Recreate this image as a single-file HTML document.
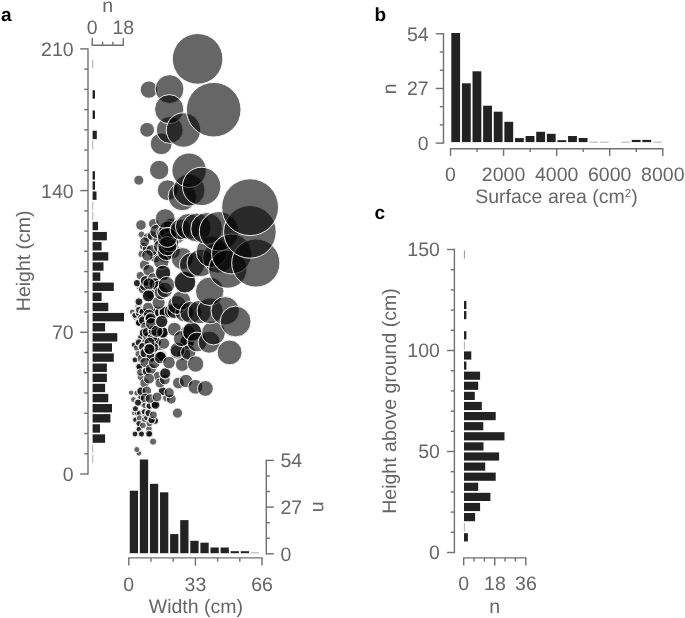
<!DOCTYPE html>
<html><head><meta charset="utf-8"><title>Figure</title>
<style>
html,body{margin:0;padding:0;background:#fff;}
svg{display:block;font-family:"Liberation Sans",sans-serif;text-rendering:geometricPrecision;will-change:transform;}
</style></head>
<body>
<svg width="685" height="618" viewBox="0 0 685 618">
<rect width="685" height="618" fill="#fff"/>
<text x="1.00" y="20.70" text-anchor="start" font-size="19" fill="#000" font-weight="bold">a</text>
<text x="374.60" y="20.50" text-anchor="start" font-size="19" fill="#000" font-weight="bold">b</text>
<text x="374.40" y="218.60" text-anchor="start" font-size="19" fill="#000" font-weight="bold">c</text>
<line x1="88.00" y1="48.25" x2="88.00" y2="474.65" stroke="#707070" stroke-width="1.4"/>
<line x1="80.20" y1="474.00" x2="88.00" y2="474.00" stroke="#707070" stroke-width="1.4"/>
<line x1="84.20" y1="453.76" x2="88.00" y2="453.76" stroke="#707070" stroke-width="1.4"/>
<line x1="84.20" y1="433.51" x2="88.00" y2="433.51" stroke="#707070" stroke-width="1.4"/>
<line x1="84.20" y1="413.27" x2="88.00" y2="413.27" stroke="#707070" stroke-width="1.4"/>
<line x1="84.20" y1="393.03" x2="88.00" y2="393.03" stroke="#707070" stroke-width="1.4"/>
<line x1="84.20" y1="372.79" x2="88.00" y2="372.79" stroke="#707070" stroke-width="1.4"/>
<line x1="84.20" y1="352.54" x2="88.00" y2="352.54" stroke="#707070" stroke-width="1.4"/>
<line x1="80.20" y1="332.30" x2="88.00" y2="332.30" stroke="#707070" stroke-width="1.4"/>
<line x1="84.20" y1="312.06" x2="88.00" y2="312.06" stroke="#707070" stroke-width="1.4"/>
<line x1="84.20" y1="291.81" x2="88.00" y2="291.81" stroke="#707070" stroke-width="1.4"/>
<line x1="84.20" y1="271.57" x2="88.00" y2="271.57" stroke="#707070" stroke-width="1.4"/>
<line x1="84.20" y1="251.33" x2="88.00" y2="251.33" stroke="#707070" stroke-width="1.4"/>
<line x1="84.20" y1="231.09" x2="88.00" y2="231.09" stroke="#707070" stroke-width="1.4"/>
<line x1="84.20" y1="210.84" x2="88.00" y2="210.84" stroke="#707070" stroke-width="1.4"/>
<line x1="80.20" y1="190.60" x2="88.00" y2="190.60" stroke="#707070" stroke-width="1.4"/>
<line x1="84.20" y1="170.36" x2="88.00" y2="170.36" stroke="#707070" stroke-width="1.4"/>
<line x1="84.20" y1="150.11" x2="88.00" y2="150.11" stroke="#707070" stroke-width="1.4"/>
<line x1="84.20" y1="129.87" x2="88.00" y2="129.87" stroke="#707070" stroke-width="1.4"/>
<line x1="84.20" y1="109.63" x2="88.00" y2="109.63" stroke="#707070" stroke-width="1.4"/>
<line x1="84.20" y1="89.39" x2="88.00" y2="89.39" stroke="#707070" stroke-width="1.4"/>
<line x1="84.20" y1="69.14" x2="88.00" y2="69.14" stroke="#707070" stroke-width="1.4"/>
<line x1="80.20" y1="48.90" x2="88.00" y2="48.90" stroke="#707070" stroke-width="1.4"/>
<text x="73.60" y="55.90" text-anchor="end" font-size="19.5" fill="#666">210</text>
<text x="73.60" y="197.60" text-anchor="end" font-size="19.5" fill="#666">140</text>
<text x="73.60" y="339.30" text-anchor="end" font-size="19.5" fill="#666">70</text>
<text x="73.60" y="481.00" text-anchor="end" font-size="19.5" fill="#666">0</text>
<text x="29.90" y="260.80" text-anchor="middle" font-size="19.5" fill="#666" transform="rotate(-90 29.90 260.80)">Height (cm)</text>
<line x1="91.55" y1="45.20" x2="123.95" y2="45.20" stroke="#707070" stroke-width="1.4"/>
<line x1="92.20" y1="37.90" x2="92.20" y2="45.20" stroke="#707070" stroke-width="1.4"/>
<line x1="123.30" y1="37.90" x2="123.30" y2="45.20" stroke="#707070" stroke-width="1.4"/>
<line x1="102.60" y1="41.80" x2="102.60" y2="45.20" stroke="#707070" stroke-width="1.4"/>
<line x1="112.90" y1="41.80" x2="112.90" y2="45.20" stroke="#707070" stroke-width="1.4"/>
<text x="92.10" y="34.20" text-anchor="middle" font-size="19.5" fill="#666">0</text>
<text x="123.30" y="34.20" text-anchor="middle" font-size="19.5" fill="#666">18</text>
<text x="107.60" y="11.50" text-anchor="middle" font-size="19.5" fill="#666">n</text>
<rect x="92.30" y="59.87" width="0.90" height="8.42" fill="#a8a8a8"/>
<rect x="92.60" y="90.24" width="2.40" height="8.42" fill="#222"/>
<rect x="92.60" y="110.48" width="2.40" height="8.42" fill="#222"/>
<rect x="92.60" y="130.72" width="4.20" height="8.42" fill="#222"/>
<rect x="92.30" y="140.84" width="0.90" height="8.42" fill="#a8a8a8"/>
<rect x="92.60" y="171.21" width="2.40" height="8.42" fill="#222"/>
<rect x="92.60" y="181.33" width="2.40" height="8.42" fill="#222"/>
<rect x="92.60" y="191.45" width="3.90" height="8.42" fill="#222"/>
<rect x="92.30" y="201.57" width="0.90" height="8.42" fill="#a8a8a8"/>
<rect x="92.30" y="211.69" width="0.90" height="8.42" fill="#a8a8a8"/>
<rect x="92.60" y="221.81" width="5.40" height="8.42" fill="#222"/>
<rect x="92.60" y="231.94" width="14.30" height="8.42" fill="#222"/>
<rect x="92.60" y="242.06" width="9.00" height="8.42" fill="#222"/>
<rect x="92.60" y="252.18" width="15.70" height="8.42" fill="#222"/>
<rect x="92.60" y="262.30" width="10.90" height="8.42" fill="#222"/>
<rect x="92.60" y="272.42" width="7.70" height="8.42" fill="#222"/>
<rect x="92.60" y="282.54" width="21.20" height="8.42" fill="#222"/>
<rect x="92.60" y="292.66" width="9.00" height="8.42" fill="#222"/>
<rect x="92.60" y="302.79" width="15.70" height="8.42" fill="#222"/>
<rect x="92.60" y="312.91" width="31.40" height="8.42" fill="#222"/>
<rect x="92.60" y="323.03" width="12.50" height="8.42" fill="#222"/>
<rect x="92.60" y="333.15" width="24.70" height="8.42" fill="#222"/>
<rect x="92.60" y="343.27" width="19.40" height="8.42" fill="#222"/>
<rect x="92.60" y="353.39" width="21.20" height="8.42" fill="#222"/>
<rect x="92.60" y="363.51" width="14.30" height="8.42" fill="#222"/>
<rect x="92.60" y="373.64" width="14.30" height="8.42" fill="#222"/>
<rect x="92.60" y="383.76" width="12.50" height="8.42" fill="#222"/>
<rect x="92.60" y="393.88" width="15.70" height="8.42" fill="#222"/>
<rect x="92.60" y="404.00" width="19.40" height="8.42" fill="#222"/>
<rect x="92.60" y="414.12" width="17.80" height="8.42" fill="#222"/>
<rect x="92.60" y="424.24" width="7.40" height="8.42" fill="#222"/>
<rect x="92.60" y="434.36" width="12.50" height="8.42" fill="#222"/>
<rect x="92.30" y="444.49" width="0.90" height="8.42" fill="#a8a8a8"/>
<rect x="92.30" y="454.61" width="0.90" height="8.42" fill="#a8a8a8"/>
<line x1="128.15" y1="557.90" x2="262.65" y2="557.90" stroke="#707070" stroke-width="1.4"/>
<line x1="128.80" y1="557.90" x2="128.80" y2="565.60" stroke="#707070" stroke-width="1.4"/>
<line x1="151.00" y1="557.90" x2="151.00" y2="561.70" stroke="#707070" stroke-width="1.4"/>
<line x1="173.20" y1="557.90" x2="173.20" y2="561.70" stroke="#707070" stroke-width="1.4"/>
<line x1="195.40" y1="557.90" x2="195.40" y2="565.60" stroke="#707070" stroke-width="1.4"/>
<line x1="217.60" y1="557.90" x2="217.60" y2="561.70" stroke="#707070" stroke-width="1.4"/>
<line x1="239.80" y1="557.90" x2="239.80" y2="561.70" stroke="#707070" stroke-width="1.4"/>
<line x1="262.00" y1="557.90" x2="262.00" y2="565.60" stroke="#707070" stroke-width="1.4"/>
<text x="128.80" y="590.50" text-anchor="middle" font-size="19.5" fill="#666">0</text>
<text x="195.40" y="590.50" text-anchor="middle" font-size="19.5" fill="#666">33</text>
<text x="262.00" y="590.50" text-anchor="middle" font-size="19.5" fill="#666">66</text>
<text x="195.90" y="613.30" text-anchor="middle" font-size="19.5" fill="#666">Width (cm)</text>
<line x1="266.30" y1="459.75" x2="266.30" y2="554.45" stroke="#707070" stroke-width="1.4"/>
<line x1="266.30" y1="460.40" x2="273.90" y2="460.40" stroke="#707070" stroke-width="1.4"/>
<line x1="266.30" y1="475.97" x2="269.90" y2="475.97" stroke="#707070" stroke-width="1.4"/>
<line x1="266.30" y1="491.53" x2="269.90" y2="491.53" stroke="#707070" stroke-width="1.4"/>
<line x1="266.30" y1="507.10" x2="273.90" y2="507.10" stroke="#707070" stroke-width="1.4"/>
<line x1="266.30" y1="522.67" x2="269.90" y2="522.67" stroke="#707070" stroke-width="1.4"/>
<line x1="266.30" y1="538.23" x2="269.90" y2="538.23" stroke="#707070" stroke-width="1.4"/>
<line x1="266.30" y1="553.80" x2="273.90" y2="553.80" stroke="#707070" stroke-width="1.4"/>
<text x="280.40" y="467.20" text-anchor="start" font-size="19.5" fill="#666">54</text>
<text x="280.40" y="514.10" text-anchor="start" font-size="19.5" fill="#666">27</text>
<text x="280.40" y="560.80" text-anchor="start" font-size="19.5" fill="#666">0</text>
<text x="313.40" y="507.00" text-anchor="middle" font-size="19.5" fill="#666" transform="rotate(90 313.40 507.00)">n</text>
<rect x="129.75" y="490.70" width="8.29" height="62.50" fill="#222"/>
<rect x="139.84" y="459.50" width="8.29" height="93.70" fill="#222"/>
<rect x="149.93" y="483.80" width="8.29" height="69.40" fill="#222"/>
<rect x="160.02" y="492.30" width="8.29" height="60.90" fill="#222"/>
<rect x="170.11" y="534.10" width="8.29" height="19.10" fill="#222"/>
<rect x="180.20" y="520.10" width="8.29" height="33.10" fill="#222"/>
<rect x="190.30" y="540.80" width="8.29" height="12.40" fill="#222"/>
<rect x="200.39" y="542.70" width="8.29" height="10.50" fill="#222"/>
<rect x="210.48" y="547.50" width="8.29" height="5.70" fill="#222"/>
<rect x="220.57" y="547.50" width="8.29" height="5.70" fill="#222"/>
<rect x="230.66" y="551.20" width="8.29" height="2.00" fill="#222"/>
<rect x="240.75" y="551.20" width="8.29" height="2.00" fill="#222"/>
<rect x="250.84" y="552.40" width="8.29" height="0.90" fill="#a8a8a8"/>
<line x1="443.50" y1="33.15" x2="443.50" y2="143.75" stroke="#707070" stroke-width="1.4"/>
<line x1="435.70" y1="33.80" x2="443.50" y2="33.80" stroke="#707070" stroke-width="1.4"/>
<line x1="439.80" y1="52.02" x2="443.50" y2="52.02" stroke="#707070" stroke-width="1.4"/>
<line x1="439.80" y1="70.23" x2="443.50" y2="70.23" stroke="#707070" stroke-width="1.4"/>
<line x1="435.70" y1="88.45" x2="443.50" y2="88.45" stroke="#707070" stroke-width="1.4"/>
<line x1="439.80" y1="106.67" x2="443.50" y2="106.67" stroke="#707070" stroke-width="1.4"/>
<line x1="439.80" y1="124.88" x2="443.50" y2="124.88" stroke="#707070" stroke-width="1.4"/>
<line x1="435.70" y1="143.10" x2="443.50" y2="143.10" stroke="#707070" stroke-width="1.4"/>
<text x="428.60" y="41.00" text-anchor="end" font-size="19.5" fill="#666">54</text>
<text x="428.60" y="95.40" text-anchor="end" font-size="19.5" fill="#666">27</text>
<text x="428.60" y="150.10" text-anchor="end" font-size="19.5" fill="#666">0</text>
<text x="396.00" y="88.70" text-anchor="middle" font-size="19.5" fill="#666" transform="rotate(-90 396.00 88.70)">n</text>
<line x1="449.85" y1="148.80" x2="663.45" y2="148.80" stroke="#707070" stroke-width="1.4"/>
<line x1="450.50" y1="148.80" x2="450.50" y2="155.90" stroke="#707070" stroke-width="1.4"/>
<line x1="477.04" y1="148.80" x2="477.04" y2="151.90" stroke="#707070" stroke-width="1.4"/>
<line x1="503.57" y1="148.80" x2="503.57" y2="155.90" stroke="#707070" stroke-width="1.4"/>
<line x1="530.11" y1="148.80" x2="530.11" y2="151.90" stroke="#707070" stroke-width="1.4"/>
<line x1="556.65" y1="148.80" x2="556.65" y2="155.90" stroke="#707070" stroke-width="1.4"/>
<line x1="583.19" y1="148.80" x2="583.19" y2="151.90" stroke="#707070" stroke-width="1.4"/>
<line x1="609.72" y1="148.80" x2="609.72" y2="155.90" stroke="#707070" stroke-width="1.4"/>
<line x1="636.26" y1="148.80" x2="636.26" y2="151.90" stroke="#707070" stroke-width="1.4"/>
<line x1="662.80" y1="148.80" x2="662.80" y2="155.90" stroke="#707070" stroke-width="1.4"/>
<text x="450.50" y="180.90" text-anchor="middle" font-size="19.5" fill="#666">0</text>
<text x="503.57" y="180.90" text-anchor="middle" font-size="19.5" fill="#666">2000</text>
<text x="556.65" y="180.90" text-anchor="middle" font-size="19.5" fill="#666">4000</text>
<text x="609.72" y="180.90" text-anchor="middle" font-size="19.5" fill="#666">6000</text>
<text x="662.80" y="180.90" text-anchor="middle" font-size="19.5" fill="#666">8000</text>
<text x="556.5" y="203.2" text-anchor="middle" font-size="19.5" fill="#666">Surface area (cm<tspan font-size="11.5" dy="-6.3">2</tspan><tspan dy="6.3">)</tspan></text>
<rect x="451.30" y="33.00" width="8.81" height="109.10" fill="#222"/>
<rect x="461.92" y="83.30" width="8.81" height="58.80" fill="#222"/>
<rect x="472.53" y="71.30" width="8.81" height="70.80" fill="#222"/>
<rect x="483.14" y="105.70" width="8.81" height="36.40" fill="#222"/>
<rect x="493.76" y="111.70" width="8.81" height="30.40" fill="#222"/>
<rect x="504.38" y="121.80" width="8.81" height="20.30" fill="#222"/>
<rect x="514.99" y="138.10" width="8.82" height="4.00" fill="#222"/>
<rect x="525.60" y="136.00" width="8.82" height="6.10" fill="#222"/>
<rect x="536.22" y="131.80" width="8.82" height="10.30" fill="#222"/>
<rect x="546.83" y="133.80" width="8.82" height="8.30" fill="#222"/>
<rect x="557.45" y="140.20" width="8.82" height="1.90" fill="#222"/>
<rect x="568.06" y="136.00" width="8.82" height="6.10" fill="#222"/>
<rect x="578.68" y="138.00" width="8.82" height="4.10" fill="#222"/>
<rect x="589.29" y="141.70" width="8.82" height="0.90" fill="#a8a8a8"/>
<rect x="599.91" y="141.70" width="8.81" height="0.90" fill="#a8a8a8"/>
<rect x="621.14" y="141.70" width="8.82" height="0.90" fill="#a8a8a8"/>
<rect x="631.75" y="139.90" width="8.82" height="2.20" fill="#222"/>
<rect x="642.37" y="139.90" width="8.82" height="2.20" fill="#222"/>
<rect x="652.98" y="141.70" width="8.82" height="0.90" fill="#a8a8a8"/>
<line x1="454.40" y1="248.85" x2="454.40" y2="553.15" stroke="#707070" stroke-width="1.4"/>
<line x1="447.00" y1="552.50" x2="454.40" y2="552.50" stroke="#707070" stroke-width="1.4"/>
<line x1="450.80" y1="532.30" x2="454.40" y2="532.30" stroke="#707070" stroke-width="1.4"/>
<line x1="450.80" y1="512.10" x2="454.40" y2="512.10" stroke="#707070" stroke-width="1.4"/>
<line x1="450.80" y1="491.90" x2="454.40" y2="491.90" stroke="#707070" stroke-width="1.4"/>
<line x1="450.80" y1="471.70" x2="454.40" y2="471.70" stroke="#707070" stroke-width="1.4"/>
<line x1="447.00" y1="451.50" x2="454.40" y2="451.50" stroke="#707070" stroke-width="1.4"/>
<line x1="450.80" y1="431.30" x2="454.40" y2="431.30" stroke="#707070" stroke-width="1.4"/>
<line x1="450.80" y1="411.10" x2="454.40" y2="411.10" stroke="#707070" stroke-width="1.4"/>
<line x1="450.80" y1="390.90" x2="454.40" y2="390.90" stroke="#707070" stroke-width="1.4"/>
<line x1="450.80" y1="370.70" x2="454.40" y2="370.70" stroke="#707070" stroke-width="1.4"/>
<line x1="447.00" y1="350.50" x2="454.40" y2="350.50" stroke="#707070" stroke-width="1.4"/>
<line x1="450.80" y1="330.30" x2="454.40" y2="330.30" stroke="#707070" stroke-width="1.4"/>
<line x1="450.80" y1="310.10" x2="454.40" y2="310.10" stroke="#707070" stroke-width="1.4"/>
<line x1="450.80" y1="289.90" x2="454.40" y2="289.90" stroke="#707070" stroke-width="1.4"/>
<line x1="450.80" y1="269.70" x2="454.40" y2="269.70" stroke="#707070" stroke-width="1.4"/>
<line x1="447.00" y1="249.50" x2="454.40" y2="249.50" stroke="#707070" stroke-width="1.4"/>
<text x="439.90" y="256.00" text-anchor="end" font-size="19.5" fill="#666">150</text>
<text x="439.90" y="357.00" text-anchor="end" font-size="19.5" fill="#666">100</text>
<text x="439.90" y="458.00" text-anchor="end" font-size="19.5" fill="#666">50</text>
<text x="439.90" y="559.00" text-anchor="end" font-size="19.5" fill="#666">0</text>
<text x="395.80" y="401.00" text-anchor="middle" font-size="19.5" fill="#666" transform="rotate(-90 395.80 401.00)">Height above ground (cm)</text>
<line x1="463.05" y1="557.90" x2="526.45" y2="557.90" stroke="#707070" stroke-width="1.4"/>
<line x1="463.70" y1="557.90" x2="463.70" y2="565.60" stroke="#707070" stroke-width="1.4"/>
<line x1="474.05" y1="557.90" x2="474.05" y2="561.50" stroke="#707070" stroke-width="1.4"/>
<line x1="484.40" y1="557.90" x2="484.40" y2="561.50" stroke="#707070" stroke-width="1.4"/>
<line x1="494.75" y1="557.90" x2="494.75" y2="565.60" stroke="#707070" stroke-width="1.4"/>
<line x1="505.10" y1="557.90" x2="505.10" y2="561.50" stroke="#707070" stroke-width="1.4"/>
<line x1="515.45" y1="557.90" x2="515.45" y2="561.50" stroke="#707070" stroke-width="1.4"/>
<line x1="525.80" y1="557.90" x2="525.80" y2="565.60" stroke="#707070" stroke-width="1.4"/>
<text x="463.60" y="590.40" text-anchor="middle" font-size="19.5" fill="#666">0</text>
<text x="494.90" y="590.40" text-anchor="middle" font-size="19.5" fill="#666">18</text>
<text x="525.90" y="590.40" text-anchor="middle" font-size="19.5" fill="#666">36</text>
<text x="494.80" y="612.70" text-anchor="middle" font-size="19.5" fill="#666">n</text>
<rect x="463.90" y="250.40" width="0.90" height="8.20" fill="#888"/>
<rect x="464.00" y="300.90" width="2.40" height="8.20" fill="#222"/>
<rect x="464.00" y="311.00" width="2.40" height="8.20" fill="#222"/>
<rect x="464.00" y="331.20" width="2.40" height="8.20" fill="#222"/>
<rect x="463.90" y="341.30" width="0.90" height="8.20" fill="#a8a8a8"/>
<rect x="464.00" y="351.40" width="7.30" height="8.20" fill="#222"/>
<rect x="464.00" y="361.50" width="2.40" height="8.20" fill="#222"/>
<rect x="464.00" y="371.60" width="16.10" height="8.20" fill="#222"/>
<rect x="464.00" y="381.70" width="14.20" height="8.20" fill="#222"/>
<rect x="464.00" y="391.80" width="10.80" height="8.20" fill="#222"/>
<rect x="464.00" y="401.90" width="17.80" height="8.20" fill="#222"/>
<rect x="464.00" y="412.00" width="31.70" height="8.20" fill="#222"/>
<rect x="464.00" y="422.10" width="19.30" height="8.20" fill="#222"/>
<rect x="464.00" y="432.20" width="40.50" height="8.20" fill="#222"/>
<rect x="464.00" y="442.30" width="19.50" height="8.20" fill="#222"/>
<rect x="464.00" y="452.40" width="35.10" height="8.20" fill="#222"/>
<rect x="464.00" y="462.50" width="21.20" height="8.20" fill="#222"/>
<rect x="464.00" y="472.60" width="31.70" height="8.20" fill="#222"/>
<rect x="464.00" y="482.70" width="14.20" height="8.20" fill="#222"/>
<rect x="464.00" y="492.80" width="26.40" height="8.20" fill="#222"/>
<rect x="464.00" y="502.90" width="16.10" height="8.20" fill="#222"/>
<rect x="464.00" y="513.00" width="11.10" height="8.20" fill="#222"/>
<rect x="463.90" y="523.10" width="0.90" height="8.20" fill="#a8a8a8"/>
<rect x="464.00" y="533.20" width="3.90" height="8.20" fill="#222"/>
<g fill="#000" fill-opacity="0.6" stroke="#fff" stroke-opacity="0.9" stroke-width="1"><circle cx="131.1" cy="392.7" r="2.7"/>
<circle cx="134.1" cy="413.1" r="2.7"/>
<circle cx="136.8" cy="413.1" r="2.7"/>
<circle cx="138.5" cy="433.7" r="2.7"/>
<circle cx="137.3" cy="413.5" r="2.7"/>
<circle cx="138.9" cy="453.3" r="2.8"/>
<circle cx="135.0" cy="419.5" r="2.8"/>
<circle cx="135.5" cy="419.9" r="2.8"/>
<circle cx="133.5" cy="399.5" r="2.9"/>
<circle cx="132.4" cy="312.0" r="3.0"/>
<circle cx="136.8" cy="393.1" r="3.0"/>
<circle cx="139.4" cy="413.1" r="3.0"/>
<circle cx="144.6" cy="414.0" r="3.0"/>
<circle cx="138.5" cy="428.9" r="3.0"/>
<circle cx="134.6" cy="433.7" r="3.0"/>
<circle cx="136.8" cy="449.5" r="3.0"/>
<circle cx="133.8" cy="344.5" r="3.0"/>
<circle cx="134.5" cy="359.5" r="3.0"/>
<circle cx="139.0" cy="429.3" r="3.0"/>
<circle cx="135.1" cy="434.1" r="3.0"/>
<circle cx="134.3" cy="344.9" r="3.0"/>
<circle cx="135.0" cy="359.9" r="3.0"/>
<circle cx="135.9" cy="317.7" r="3.1"/>
<circle cx="139.4" cy="368.1" r="3.1"/>
<circle cx="142.0" cy="403.2" r="3.1"/>
<circle cx="144.8" cy="405.6" r="3.1"/>
<circle cx="135.0" cy="408.4" r="3.1"/>
<circle cx="143.8" cy="411.4" r="3.1"/>
<circle cx="138.5" cy="423.2" r="3.1"/>
<circle cx="141.1" cy="433.7" r="3.1"/>
<circle cx="134.5" cy="315.0" r="3.1"/>
<circle cx="141.0" cy="317.5" r="3.1"/>
<circle cx="139.5" cy="418.0" r="3.1"/>
<circle cx="135.5" cy="408.8" r="3.1"/>
<circle cx="144.3" cy="411.8" r="3.1"/>
<circle cx="139.0" cy="423.6" r="3.1"/>
<circle cx="141.6" cy="434.1" r="3.1"/>
<circle cx="135.0" cy="315.4" r="3.1"/>
<circle cx="144.5" cy="419.5" r="3.2"/>
<circle cx="142.9" cy="425.4" r="3.3"/>
<circle cx="149.0" cy="428.9" r="3.3"/>
<circle cx="149.3" cy="433.9" r="3.3"/>
<circle cx="140.5" cy="337.0" r="3.3"/>
<circle cx="140.5" cy="397.5" r="3.3"/>
<circle cx="149.8" cy="434.3" r="3.3"/>
<circle cx="141.0" cy="337.4" r="3.3"/>
<circle cx="141.0" cy="397.9" r="3.3"/>
<circle cx="136.8" cy="347.9" r="3.4"/>
<circle cx="147.0" cy="417.5" r="3.4"/>
<circle cx="149.0" cy="405.7" r="3.5"/>
<circle cx="141.5" cy="234.5" r="3.5"/>
<circle cx="149.5" cy="406.1" r="3.5"/>
<circle cx="139.8" cy="287.0" r="3.6"/>
<circle cx="138.5" cy="306.7" r="3.6"/>
<circle cx="138.5" cy="312.9" r="3.6"/>
<circle cx="138.5" cy="354.0" r="3.6"/>
<circle cx="138.9" cy="366.4" r="3.6"/>
<circle cx="140.7" cy="376.9" r="3.6"/>
<circle cx="140.7" cy="390.9" r="3.6"/>
<circle cx="137.6" cy="402.3" r="3.6"/>
<circle cx="148.1" cy="412.7" r="3.6"/>
<circle cx="149.5" cy="423.2" r="3.6"/>
<circle cx="149.0" cy="433.7" r="3.6"/>
<circle cx="153.1" cy="441.6" r="3.6"/>
<circle cx="138.6" cy="309.7" r="3.6"/>
<circle cx="139.0" cy="313.3" r="3.6"/>
<circle cx="139.4" cy="366.8" r="3.6"/>
<circle cx="138.1" cy="402.7" r="3.6"/>
<circle cx="148.6" cy="413.1" r="3.6"/>
<circle cx="139.1" cy="310.1" r="3.6"/>
<circle cx="154.5" cy="420.5" r="3.7"/>
<circle cx="141.5" cy="254.0" r="3.7"/>
<circle cx="155.0" cy="420.9" r="3.7"/>
<circle cx="136.8" cy="283.5" r="3.8"/>
<circle cx="138.5" cy="322.1" r="3.8"/>
<circle cx="138.5" cy="342.2" r="3.8"/>
<circle cx="140.3" cy="372.5" r="3.8"/>
<circle cx="151.2" cy="419.7" r="3.8"/>
<circle cx="138.7" cy="322.4" r="3.8"/>
<circle cx="137.2" cy="283.1" r="3.8"/>
<circle cx="139.0" cy="322.5" r="3.8"/>
<circle cx="139.0" cy="342.6" r="3.8"/>
<circle cx="151.7" cy="420.1" r="3.8"/>
<circle cx="139.2" cy="322.8" r="3.8"/>
<circle cx="142.4" cy="311.6" r="3.9"/>
<circle cx="145.1" cy="341.8" r="3.9"/>
<circle cx="142.9" cy="312.0" r="3.9"/>
<circle cx="145.6" cy="342.2" r="3.9"/>
<circle cx="141.5" cy="317.9" r="3.9"/>
<circle cx="143.3" cy="246.2" r="4.0"/>
<circle cx="138.5" cy="301.4" r="4.0"/>
<circle cx="166.5" cy="397.9" r="4.0"/>
<circle cx="154.4" cy="404.2" r="4.0"/>
<circle cx="153.4" cy="414.9" r="4.0"/>
<circle cx="139.0" cy="301.8" r="4.0"/>
<circle cx="140.3" cy="275.6" r="4.2"/>
<circle cx="143.2" cy="320.6" r="4.3"/>
<circle cx="141.5" cy="358.5" r="4.3"/>
<circle cx="146.8" cy="248.8" r="4.4"/>
<circle cx="162.2" cy="390.9" r="4.4"/>
<circle cx="155.1" cy="404.6" r="4.4"/>
<circle cx="146.2" cy="316.5" r="4.4"/>
<circle cx="142.5" cy="346.5" r="4.4"/>
<circle cx="146.0" cy="350.5" r="4.4"/>
<circle cx="162.7" cy="391.3" r="4.4"/>
<circle cx="155.6" cy="405.0" r="4.4"/>
<circle cx="143.0" cy="346.9" r="4.4"/>
<circle cx="147.5" cy="237.5" r="4.5"/>
<circle cx="142.9" cy="289.2" r="4.5"/>
<circle cx="142.9" cy="320.3" r="4.5"/>
<circle cx="145.1" cy="326.5" r="4.5"/>
<circle cx="143.3" cy="332.6" r="4.5"/>
<circle cx="146.4" cy="370.8" r="4.5"/>
<circle cx="143.8" cy="333.0" r="4.5"/>
<circle cx="146.9" cy="371.2" r="4.5"/>
<circle cx="141.2" cy="391.3" r="4.5"/>
<circle cx="144.6" cy="383.0" r="4.8"/>
<circle cx="157.8" cy="376.0" r="4.8"/>
<circle cx="146.8" cy="390.9" r="4.8"/>
<circle cx="145.1" cy="397.9" r="4.8"/>
<circle cx="147.6" cy="336.5" r="4.8"/>
<circle cx="150.0" cy="398.5" r="4.8"/>
<circle cx="157.0" cy="397.0" r="4.9"/>
<circle cx="144.5" cy="286.0" r="4.9"/>
<circle cx="152.1" cy="235.6" r="4.9"/>
<circle cx="144.6" cy="241.8" r="4.9"/>
<circle cx="171.3" cy="399.2" r="4.9"/>
<circle cx="138.8" cy="180.2" r="5.0"/>
<circle cx="147.3" cy="332.1" r="5.0"/>
<circle cx="156.0" cy="341.8" r="5.0"/>
<circle cx="144.6" cy="352.7" r="5.0"/>
<circle cx="158.6" cy="351.4" r="5.0"/>
<circle cx="160.0" cy="383.0" r="5.0"/>
<circle cx="150.5" cy="357.0" r="5.0"/>
<circle cx="156.5" cy="342.2" r="5.0"/>
<circle cx="145.1" cy="353.1" r="5.0"/>
<circle cx="151.0" cy="357.4" r="5.0"/>
<circle cx="177.5" cy="413.1" r="5.1"/>
<circle cx="169.2" cy="392.7" r="5.1"/>
<circle cx="152.5" cy="337.5" r="5.1"/>
<circle cx="153.5" cy="347.5" r="5.1"/>
<circle cx="145.1" cy="362.4" r="5.2"/>
<circle cx="141.0" cy="225.0" r="5.3"/>
<circle cx="153.8" cy="223.8" r="5.3"/>
<circle cx="144.6" cy="265.1" r="5.3"/>
<circle cx="152.5" cy="289.2" r="5.3"/>
<circle cx="149.9" cy="293.5" r="5.3"/>
<circle cx="156.0" cy="311.1" r="5.3"/>
<circle cx="163.0" cy="333.9" r="5.3"/>
<circle cx="161.3" cy="355.4" r="5.3"/>
<circle cx="160.4" cy="355.9" r="5.3"/>
<circle cx="164.8" cy="379.5" r="5.3"/>
<circle cx="156.5" cy="311.5" r="5.3"/>
<circle cx="161.8" cy="355.8" r="5.3"/>
<circle cx="160.9" cy="356.3" r="5.3"/>
<circle cx="145.5" cy="281.3" r="5.5"/>
<circle cx="148.1" cy="307.5" r="5.5"/>
<circle cx="149.0" cy="314.6" r="5.5"/>
<circle cx="149.9" cy="319.0" r="5.5"/>
<circle cx="153.4" cy="330.4" r="5.5"/>
<circle cx="149.5" cy="342.7" r="5.5"/>
<circle cx="149.0" cy="348.8" r="5.5"/>
<circle cx="150.8" cy="369.0" r="5.5"/>
<circle cx="149.0" cy="378.6" r="5.5"/>
<circle cx="145.9" cy="280.9" r="5.5"/>
<circle cx="150.4" cy="319.4" r="5.5"/>
<circle cx="153.9" cy="330.8" r="5.5"/>
<circle cx="149.5" cy="349.2" r="5.5"/>
<circle cx="164.8" cy="373.0" r="5.6"/>
<circle cx="150.6" cy="318.3" r="5.6"/>
<circle cx="165.3" cy="373.4" r="5.6"/>
<circle cx="155.5" cy="257.0" r="5.7"/>
<circle cx="151.6" cy="250.5" r="5.8"/>
<circle cx="148.6" cy="270.3" r="5.8"/>
<circle cx="153.4" cy="278.6" r="5.8"/>
<circle cx="154.3" cy="283.9" r="5.8"/>
<circle cx="160.4" cy="312.4" r="5.8"/>
<circle cx="162.2" cy="332.1" r="5.8"/>
<circle cx="163.9" cy="343.5" r="5.8"/>
<circle cx="154.7" cy="283.5" r="5.8"/>
<circle cx="162.7" cy="332.5" r="5.8"/>
<circle cx="154.3" cy="362.9" r="5.8"/>
<circle cx="147.5" cy="255.5" r="5.8"/>
<circle cx="178.4" cy="383.0" r="5.9"/>
<circle cx="158.5" cy="286.5" r="6.0"/>
<circle cx="149.0" cy="283.9" r="6.1"/>
<circle cx="148.1" cy="296.2" r="6.1"/>
<circle cx="151.6" cy="323.8" r="6.1"/>
<circle cx="156.9" cy="331.3" r="6.1"/>
<circle cx="148.5" cy="295.8" r="6.1"/>
<circle cx="164.8" cy="312.0" r="6.2"/>
<circle cx="161.3" cy="321.2" r="6.2"/>
<circle cx="160.4" cy="357.6" r="6.2"/>
<circle cx="165.3" cy="312.4" r="6.2"/>
<circle cx="161.8" cy="321.6" r="6.2"/>
<circle cx="169.0" cy="362.6" r="6.3"/>
<circle cx="159.5" cy="239.5" r="6.5"/>
<circle cx="158.6" cy="302.7" r="6.6"/>
<circle cx="184.0" cy="354.0" r="6.6"/>
<circle cx="186.0" cy="381.0" r="6.7"/>
<circle cx="182.3" cy="364.5" r="6.9"/>
<circle cx="174.4" cy="329.3" r="7.0"/>
<circle cx="160.5" cy="246.5" r="7.0"/>
<circle cx="156.9" cy="231.3" r="7.1"/>
<circle cx="161.3" cy="292.7" r="7.1"/>
<circle cx="177.2" cy="352.0" r="7.1"/>
<circle cx="187.4" cy="342.1" r="7.3"/>
<circle cx="147.1" cy="129.8" r="7.4"/>
<circle cx="164.8" cy="255.0" r="7.4"/>
<circle cx="171.8" cy="311.1" r="7.4"/>
<circle cx="187.7" cy="332.3" r="7.4"/>
<circle cx="187.1" cy="341.8" r="7.4"/>
<circle cx="195.4" cy="386.8" r="7.4"/>
<circle cx="177.5" cy="349.8" r="7.6"/>
<circle cx="188.2" cy="352.6" r="7.6"/>
<circle cx="163.3" cy="272.2" r="7.6"/>
<circle cx="174.5" cy="310.8" r="7.7"/>
<circle cx="161.3" cy="261.6" r="7.8"/>
<circle cx="163.0" cy="273.0" r="7.8"/>
<circle cx="164.8" cy="290.0" r="7.8"/>
<circle cx="205.4" cy="388.5" r="7.9"/>
<circle cx="164.5" cy="233.5" r="7.9"/>
<circle cx="172.5" cy="251.0" r="7.9"/>
<circle cx="181.4" cy="338.6" r="8.0"/>
<circle cx="195.6" cy="364.0" r="8.2"/>
<circle cx="166.5" cy="284.8" r="8.3"/>
<circle cx="171.5" cy="226.5" r="8.4"/>
<circle cx="148.9" cy="89.6" r="8.7"/>
<circle cx="177.0" cy="234.8" r="8.7"/>
<circle cx="166.5" cy="251.4" r="9.2"/>
<circle cx="184.5" cy="312.5" r="9.4"/>
<circle cx="177.0" cy="305.0" r="9.4"/>
<circle cx="169.5" cy="242.5" r="9.4"/>
<circle cx="192.3" cy="331.9" r="9.4"/>
<circle cx="168.3" cy="230.4" r="9.6"/>
<circle cx="167.4" cy="246.2" r="9.6"/>
<circle cx="192.0" cy="331.6" r="9.6"/>
<circle cx="159.2" cy="170.0" r="9.7"/>
<circle cx="181.0" cy="300.5" r="9.7"/>
<circle cx="165.2" cy="218.6" r="9.9"/>
<circle cx="197.0" cy="342.0" r="9.9"/>
<circle cx="167.4" cy="237.4" r="10.0"/>
<circle cx="167.7" cy="190.2" r="10.4"/>
<circle cx="180.5" cy="229.5" r="10.4"/>
<circle cx="185.2" cy="282.6" r="10.7"/>
<circle cx="161.2" cy="143.8" r="10.9"/>
<circle cx="184.9" cy="282.1" r="10.9"/>
<circle cx="182.3" cy="258.6" r="11.0"/>
<circle cx="190.8" cy="312.3" r="11.0"/>
<circle cx="209.2" cy="342.2" r="11.0"/>
<circle cx="199.6" cy="312.0" r="11.7"/>
<circle cx="213.4" cy="333.0" r="11.9"/>
<circle cx="229.6" cy="352.4" r="12.4"/>
<circle cx="192.0" cy="265.0" r="12.6"/>
<circle cx="188.4" cy="226.5" r="13.0"/>
<circle cx="210.0" cy="310.8" r="13.0"/>
<circle cx="169.7" cy="130.0" r="13.4"/>
<circle cx="200.8" cy="263.0" r="13.8"/>
<circle cx="182.3" cy="196.5" r="14.2"/>
<circle cx="209.7" cy="291.3" r="14.2"/>
<circle cx="225.2" cy="310.8" r="14.2"/>
<circle cx="169.5" cy="89.1" r="14.4"/>
<circle cx="196.6" cy="227.5" r="14.4"/>
<circle cx="169.2" cy="109.2" r="14.6"/>
<circle cx="218.0" cy="257.8" r="15.4"/>
<circle cx="235.6" cy="321.5" r="15.4"/>
<circle cx="211.7" cy="251.8" r="15.6"/>
<circle cx="206.7" cy="228.5" r="15.9"/>
<circle cx="189.0" cy="190.2" r="16.0"/>
<circle cx="183.5" cy="130.0" r="17.2"/>
<circle cx="189.1" cy="170.2" r="17.2"/>
<circle cx="227.8" cy="269.1" r="19.1"/>
<circle cx="201.6" cy="186.4" r="19.2"/>
<circle cx="218.9" cy="231.2" r="19.6"/>
<circle cx="231.6" cy="253.9" r="20.0"/>
<circle cx="255.8" cy="263.0" r="24.1"/>
<circle cx="197.6" cy="58.9" r="25.3"/>
<circle cx="249.9" cy="231.9" r="26.3"/>
<circle cx="213.7" cy="109.7" r="27.3"/>
<circle cx="250.1" cy="207.2" r="28.4"/></g>
</svg>
</body></html>
